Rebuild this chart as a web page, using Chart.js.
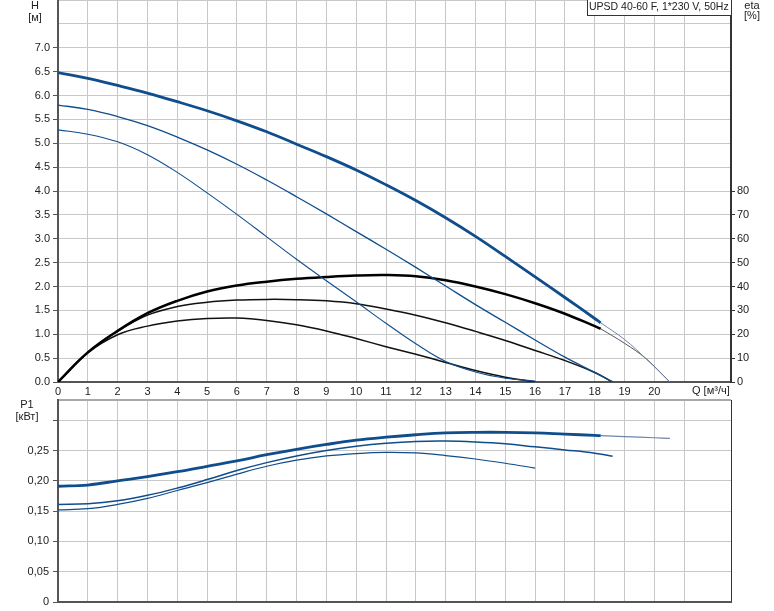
<!DOCTYPE html>
<html>
<head>
<meta charset="utf-8">
<script src="https://cdn.jsdelivr.net/npm/chart.js@4.4.1/dist/chart.umd.min.js"></script>
<style>
  body { margin: 0; background: #fff; }
  #wrap { position: relative; width: 774px; height: 611px; }
  #topChart { position: absolute; left: 0; top: 0; }
  #powerChart { position: absolute; left: 0; top: 396px; }
</style>
</head>
<body>
<div id="wrap">
  <canvas id="topChart" width="774" height="400"></canvas>
  <canvas id="powerChart" width="774" height="215"></canvas>
</div>
<script>
// flow values (m3/h) for each curve
const qMax = [0, 1, 2, 3, 4, 5, 6, 7, 8, 9, 10, 11, 12, 13, 14, 15, 16, 17, 18, 18.2];
const qMid = [0, 1, 2, 3, 4, 5, 6, 7, 8, 9, 10, 11, 12, 13, 14, 15, 16, 17, 18, 18.6];
const qMin = [0, 1, 2, 3, 4, 5, 6, 7, 8, 9, 10, 11, 12, 13, 14, 15, 16];
const qMaxTail = [18.2, 19, 19.7, 20.52];
const qPowerTail = [18.2, 19, 20, 20.52];

// head H [m]
const headMax = [6.48, 6.36, 6.21, 6.05, 5.87, 5.68, 5.47, 5.24, 4.98, 4.72, 4.44, 4.13, 3.80, 3.44, 3.05, 2.63, 2.20, 1.77, 1.33, 1.24];
const headMaxTail = [1.24, 0.89, 0.50, 0];
const headMid = [5.80, 5.71, 5.56, 5.37, 5.13, 4.86, 4.56, 4.23, 3.88, 3.52, 3.15, 2.78, 2.40, 2.01, 1.62, 1.25, 0.88, 0.52, 0.20, 0];
const headMin = [5.28, 5.19, 5.03, 4.76, 4.39, 3.96, 3.51, 3.04, 2.57, 2.12, 1.68, 1.23, 0.80, 0.43, 0.21, 0.08, 0.02];

// efficiency eta [%]
const etaMax = [0, 12.4, 21.4, 28.8, 34.0, 37.9, 40.4, 42.0, 43.2, 44.0, 44.6, 44.8, 44.3, 42.6, 40.0, 36.8, 33.0, 28.6, 23.4, 22.3];
const etaMaxTail = [22.3, 16.2, 10.0, 0];
const etaMid = [0, 12.4, 21.2, 28.0, 31.6, 33.4, 34.3, 34.6, 34.5, 34.0, 32.8, 30.6, 28.0, 24.8, 21.2, 17.4, 13.2, 9.0, 4.0, 0];
const etaMin = [0, 12.2, 19.8, 23.4, 25.5, 26.6, 26.8, 25.8, 24.0, 21.4, 18.2, 14.8, 11.6, 8.2, 4.8, 2.0, 0];

// power P1 [kW]
const powerMax = [0.191, 0.193, 0.200, 0.207, 0.215, 0.224, 0.233, 0.243, 0.252, 0.260, 0.267, 0.272, 0.276, 0.279, 0.280, 0.280, 0.279, 0.277, 0.275, 0.2745];
const powerMaxTail = [0.2745, 0.273, 0.271, 0.270];
const powerMid = [0.161, 0.162, 0.167, 0.176, 0.188, 0.202, 0.217, 0.230, 0.241, 0.250, 0.257, 0.262, 0.265, 0.2656, 0.264, 0.261, 0.256, 0.251, 0.2456, 0.2406];
const powerMin = [0.152, 0.154, 0.161, 0.171, 0.184, 0.197, 0.211, 0.224, 0.234, 0.241, 0.245, 0.247, 0.246, 0.2417, 0.236, 0.229, 0.221];

const pumpTitle = 'UPSD 40-60 F, 1*230 V, 50Hz';

const BLUE = '#0f4d8c';
const TAIL = '#6f84ad';
const GRID = '#c8c8c8';

Chart.defaults.font.family = '"Liberation Sans", Arial, sans-serif';
Chart.defaults.font.size = 11;
Chart.defaults.color = '#222';

function points(qs, vals) {
  return qs.map((q, i) => ({ x: q, y: vals[i] }));
}

function line(qs, vals, color, width, axis) {
  return {
    data: points(qs, vals),
    borderColor: color,
    borderWidth: width,
    pointRadius: 0,
    fill: false,
    tension: 0.4,
    yAxisID: axis
  };
}

function keepWhole(scale) {
  scale.ticks = scale.ticks.filter(t => Math.abs(t.value - Math.round(t.value)) < 1e-6 || t.value === scale.max);
}

// no extra room for half tick labels, the plot area is placed by hand
function noPadding(scale) {
  scale.paddingTop = 0;
  scale.paddingBottom = 0;
  scale.paddingLeft = 0;
  scale.paddingRight = 0;
}

function qAxis(showLabels, height) {
  return {
    type: 'linear',
    min: 0,
    max: 22.57,
    afterBuildTicks: keepWhole,
    ticks: {
      display: showLabels,
      stepSize: 1,
      padding: 3,
      autoSkip: false,
      maxRotation: 0,
      callback: v => (v <= 20 ? v : '')
    },
    grid: {
      drawTicks: false,
      color: ctx => (ctx.tick && ctx.tick.value > 22.1 ? '#333' : GRID)
    },
    border: { color: '#555', width: 2 },
    afterFit: s => { s.height = height; noPadding(s); }
  };
}

const textPlugin = {
  id: 'chartTexts',
  afterDraw(chart) {
    const c = chart.ctx;
    c.save();
    c.font = '11px "Liberation Sans", Arial, sans-serif';
    c.fillStyle = '#222';
    c.textBaseline = 'middle';
    c.textAlign = 'center';
    if (chart.canvas.id === 'topChart') {
      c.fillText('H', 35, 6);
      c.fillText('[м]', 35, 18);
      c.fillText('eta', 752, 6);
      c.fillText('[%]', 752, 16);
      c.fillStyle = '#fff';
      c.fillRect(587, 0, 144, 15);
      c.strokeStyle = '#333';
      c.lineWidth = 1;
      c.strokeRect(587.5, -1.5, 144, 17);
      c.fillStyle = '#222';
      c.textAlign = 'left';
      c.font = '10.5px "Liberation Sans", Arial, sans-serif';
      c.fillText(pumpTitle, 589, 7.5);
      c.font = '11px "Liberation Sans", Arial, sans-serif';
      c.fillText('Q [м³/ч]', 692, 391);
    } else {
      c.fillText('P1', 27, 9);
      c.fillText('[кВт]', 27, 21);
    }
    c.restore();
  }
};

new Chart(document.getElementById('topChart'), {
  type: 'line',
  data: {
    datasets: [
      line(qMax, headMax, BLUE, 2.8, 'y'),
      line(qMaxTail, headMaxTail, TAIL, 1, 'y'),
      line(qMid, headMid, BLUE, 1.3, 'y'),
      line(qMin, headMin, BLUE, 1.1, 'y'),
      line(qMax, etaMax, '#000', 2.5, 'eta'),
      line(qMaxTail, etaMaxTail, '#555', 1, 'eta'),
      line(qMid, etaMid, '#111', 1.5, 'eta'),
      line(qMin, etaMin, '#111', 1.5, 'eta')
    ]
  },
  options: {
    responsive: false,
    animation: false,
    devicePixelRatio: 1,
    layout: { autoPadding: false, padding: { top: 0, left: 0, right: 0, bottom: 0 } },
    plugins: { legend: { display: false }, tooltip: { enabled: false } },
    scales: {
      x: qAxis(true, 18),
      y: {
        position: 'left',
        min: 0,
        max: 8,
        ticks: {
          stepSize: 0.5,
          padding: 3,
          autoSkip: false,
          callback: v => (v <= 7 ? v.toFixed(1) : '')
        },
        grid: {
          color: GRID,
          tickLength: 5,
          tickColor: ctx => (ctx.tick && ctx.tick.value <= 7 ? '#555' : 'rgba(0,0,0,0)')
        },
        border: { color: '#555', width: 2 },
        afterFit: s => { s.width = 58; noPadding(s); }
      },
      eta: {
        position: 'right',
        min: 0,
        max: 160,
        ticks: {
          stepSize: 10,
          padding: 2,
          autoSkip: false,
          callback: v => (v <= 80 ? v : '')
        },
        grid: {
          drawOnChartArea: false,
          tickLength: 4,
          tickColor: ctx => (ctx.tick && ctx.tick.value <= 80 ? '#333' : 'rgba(0,0,0,0)')
        },
        border: { color: '#333', width: 2 },
        afterFit: s => { s.width = 43; noPadding(s); }
      }
    }
  },
  plugins: [textPlugin]
});

new Chart(document.getElementById('powerChart'), {
  type: 'line',
  data: {
    datasets: [
      line(qMax, powerMax, BLUE, 2.8, 'y'),
      line(qPowerTail, powerMaxTail, TAIL, 1.2, 'y'),
      line(qMid, powerMid, BLUE, 1.5, 'y'),
      line(qMin, powerMin, BLUE, 1.2, 'y')
    ]
  },
  options: {
    responsive: false,
    animation: false,
    devicePixelRatio: 1,
    layout: { autoPadding: false, padding: { top: 4, left: 0, right: 43, bottom: 0 } },
    plugins: { legend: { display: false }, tooltip: { enabled: false } },
    scales: {
      x: qAxis(false, 9),
      y: {
        position: 'left',
        min: 0,
        max: 1 / 3,
        ticks: {
          stepSize: 0.05,
          padding: 4,
          autoSkip: false,
          callback: v => (v < 0.001 ? '0' : v < 0.29 ? v.toFixed(2).replace('.', ',') : '')
        },
        grid: {
          color: ctx => (ctx.tick && ctx.tick.value > 0.32 ? '#a8a8a8' : GRID),
          lineWidth: ctx => (ctx.tick && ctx.tick.value > 0.32 ? 2 : 1),
          tickLength: 5,
          tickColor: ctx => (ctx.tick && ctx.tick.value <= 0.31 ? '#555' : 'rgba(0,0,0,0)')
        },
        border: { color: '#555', width: 2 },
        afterFit: s => { s.width = 58; noPadding(s); }
      }
    }
  },
  plugins: [textPlugin]
});
</script>
</body>
</html>
